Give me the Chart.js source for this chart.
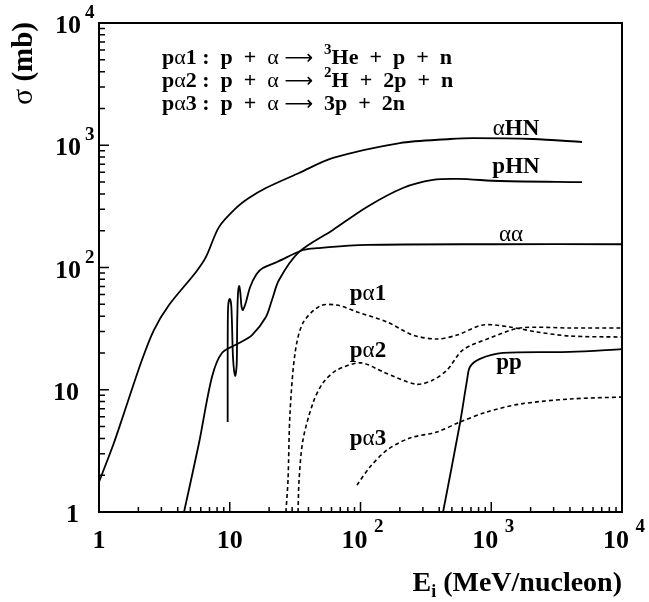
<!DOCTYPE html>
<html>
<head>
<meta charset="utf-8">
<script src="https://cdn.jsdelivr.net/npm/chart.js@4.4.0/dist/chart.umd.min.js"></script>
<style>
  html, body { margin: 0; padding: 0; background: #fff; }
  #wrap { width: 649px; height: 602px; }
</style>
</head>
<body>
<div id="wrap"><canvas id="chart" width="649" height="602"></canvas></div>
<script>
// Energies (MeV/nucleon) and cross sections (mb)
const eAlphaHN = [1, 1.3, 1.55, 2.13, 2.63, 3.43, 5.52, 6.58, 8.27, 11.2, 14, 18.9, 33.9, 61.6, 200, 484, 725, 2085, 4945];
const sAlphaHN = [1.76, 3.67, 6.4, 17.5, 30.8, 49.3, 91.9, 122, 214, 307, 370, 447, 593, 787, 1043, 1125, 1145, 1125, 1063];

const ePHN = [4.47, 5.82, 7.31, 8.72, 11.8, 14.8, 18.9, 21, 23.8, 33.9, 61.6, 112, 211, 358, 557, 1167, 4945];
const sPHN = [1, 3.67, 12.7, 20, 24.1, 28, 39.4, 54, 79, 134, 203, 313, 447, 520, 530, 510, 500];

const eAlphaAlpha = [9.64, 9.64, 9.66, 9.75, 10.0, 10.25, 10.4, 10.6, 11.0, 11.3, 11.4, 11.55, 11.8, 12.05, 12.3, 12.6, 13.3, 14.3, 16, 17.9, 23, 36.3, 46.5, 112, 1000, 10000];
const sAlphaAlpha = [5.45, 15, 35, 50, 55.3, 50, 35, 18, 13, 16, 35, 60, 70.6, 62, 48, 44.9, 52, 69, 88, 99, 111, 139, 144, 153, 155, 155];

const ePP = [428, 577, 653, 688, 820, 1230, 4000, 10000];
const sPP = [1, 5.35, 12, 15.4, 17.9, 20, 20.4, 21.5];

const ePA1 = [26.9, 27.9, 28.9, 31.6, 36.3, 49, 66.1, 94, 160, 252, 384, 547, 865, 1390, 2240, 4000, 10000];
const sPA1 = [1, 1.83, 6.45, 20, 35.2, 48.4, 49.3, 43.3, 35.8, 28, 26, 28, 33.9, 32.6, 29.7, 27.5, 27];

const ePA2 = [33.3, 33.9, 36.3, 43.3, 51.7, 66.1, 101, 149, 266, 358, 459, 608, 977, 1660, 4000, 10000];
const sPA2 = [1, 1.83, 3.88, 7.79, 11.4, 14.5, 16.6, 14, 11.1, 12, 14.5, 21.2, 26.5, 32, 32, 32];

const ePA3 = [94, 118, 160, 239, 384, 577, 927, 1660, 4000, 10000];
const sPA3 = [1.66, 2.33, 3.22, 4.03, 4.51, 5.45, 6.58, 7.64, 8.4, 8.72];

const xDecades = [1, 10, 100, 1000, 10000];
const yDecades = [1, 10, 100, 1000, 10000];
const decadeLabels = [['1', ''], ['10', ''], ['10', '2'], ['10', '3'], ['10', '4']];

const SERIF = '"Liberation Serif", "Times New Roman", serif';
const B = size => `bold ${size}px ${SERIF}`;
const N = size => `${size}px ${SERIF}`;
const ARROW = size => `${size}px "DejaVu Sans", sans-serif`;

function toPoints(xs, ys) {
  return xs.map((x, i) => ({ x, y: ys[i] }));
}

function curve(label, xs, ys, dashed) {
  return {
    label,
    data: toPoints(xs, ys),
    showLine: true,
    borderColor: '#000',
    borderWidth: dashed ? 1.6 : 1.8,
    borderDash: dashed ? [4, 3] : [],
    pointRadius: 0,
    tension: 0.3,
    fill: false
  };
}

// draw a row of text pieces with different fonts / offsets
function drawRuns(ctx, x, y, runs, align) {
  let w = 0;
  runs.forEach(r => { ctx.font = r.f; r.w = ctx.measureText(r.t).width; w += r.w; });
  let cx = align === 'right' ? x - w : align === 'center' ? x - w / 2 : x;
  runs.forEach(r => {
    ctx.font = r.f;
    ctx.fillText(r.t, cx, y + (r.dy || 0));
    cx += r.w;
  });
}

function reactionLine(ctx, x, y, n, products) {
  const f = 22;
  drawRuns(ctx, x, y, [
    { t: 'p', f: B(f) }, { t: 'α', f: N(f) }, { t: n + ' :  ', f: B(f) },
    { t: 'p  +  ', f: B(f) }, { t: 'α', f: N(f) }, { t: ' ', f: B(f) },
    { t: '⟶', f: ARROW(20) }, { t: '  ', f: B(f) }
  ].concat(products));
}

const decorations = {
  id: 'decorations',
  afterDraw(chart) {
    const { ctx, chartArea: a, scales } = chart;
    const xs = scales.x, ys = scales.y;
    ctx.save();
    ctx.fillStyle = '#000';
    ctx.strokeStyle = '#000';
    ctx.textBaseline = 'alphabetic';
    ctx.textAlign = 'left';

    // frame
    ctx.lineWidth = 2;
    ctx.strokeRect(a.left, a.top, a.right - a.left, a.bottom - a.top);

    // ticks (inward, left and bottom only)
    ctx.lineWidth = 1.5;
    ctx.beginPath();
    xDecades.forEach((d, i) => {
      for (let m = 1; m <= (i === xDecades.length - 1 ? 1 : 9); m++) {
        const px = xs.getPixelForValue(d * m);
        const len = m === 1 ? 10 : 5;
        ctx.moveTo(px, a.bottom);
        ctx.lineTo(px, a.bottom - len);
      }
    });
    yDecades.forEach((d, i) => {
      for (let m = 1; m <= (i === yDecades.length - 1 ? 1 : 9); m++) {
        const py = ys.getPixelForValue(d * m);
        const len = m === 1 ? 10 : 6;
        ctx.moveTo(a.left, py);
        ctx.lineTo(a.left + len, py);
      }
    });
    ctx.stroke();

    // tick labels
    yDecades.forEach((d, i) => {
      const py = ys.getPixelForValue(d);
      const [base, sup] = decadeLabels[i];
      drawRuns(ctx, sup ? 81 : 79, py + 10, [{ t: base, f: B(26) }], 'right');
      if (sup) drawRuns(ctx, 85, py - 5, [{ t: sup, f: B(19) }], 'left');
    });
    xDecades.forEach((d, i) => {
      const px = xs.getPixelForValue(d);
      const [base, sup] = decadeLabels[i];
      if (sup) {
        drawRuns(ctx, px + 2, 548, [{ t: base + ' ', f: B(26) }, { t: sup, f: B(19), dy: -16 }], 'center');
      } else {
        drawRuns(ctx, px, 548, [{ t: base, f: B(26) }], 'center');
      }
    });

    // axis titles
    drawRuns(ctx, 622, 591, [
      { t: 'E', f: B(28) }, { t: 'i', f: B(18), dy: 6 }, { t: ' (MeV/nucleon)', f: B(28) }
    ], 'right');
    ctx.save();
    ctx.translate(32, 22);
    ctx.rotate(-Math.PI / 2);
    drawRuns(ctx, 0, 0, [{ t: 'σ', f: N(30) }, { t: ' (mb)', f: B(29) }], 'right');
    ctx.restore();

    // reaction legend
    const lx = 162;
    reactionLine(ctx, lx, 64, '1', [
      { t: '3', f: B(15), dy: -10 }, { t: 'He  +  p  +  n', f: B(22) }
    ]);
    reactionLine(ctx, lx, 87, '2', [
      { t: '2', f: B(15), dy: -10 }, { t: 'H  +  2p  +  n', f: B(22) }
    ]);
    reactionLine(ctx, lx, 110, '3', [
      { t: '3p  +  2n', f: B(22) }
    ]);

    // curve labels
    const lf = 23;
    drawRuns(ctx, 516, 135, [{ t: 'α', f: N(lf) }, { t: 'HN', f: B(lf) }], 'center');
    drawRuns(ctx, 516, 173, [{ t: 'pHN', f: B(lf) }], 'center');
    drawRuns(ctx, 511, 241, [{ t: 'αα', f: N(lf) }], 'center');
    drawRuns(ctx, 368, 300, [{ t: 'p', f: B(lf) }, { t: 'α', f: N(lf) }, { t: '1', f: B(lf) }], 'center');
    drawRuns(ctx, 368, 357, [{ t: 'p', f: B(lf) }, { t: 'α', f: N(lf) }, { t: '2', f: B(lf) }], 'center');
    drawRuns(ctx, 509, 369, [{ t: 'pp', f: B(lf) }], 'center');
    drawRuns(ctx, 368, 445, [{ t: 'p', f: B(lf) }, { t: 'α', f: N(lf) }, { t: '3', f: B(lf) }], 'center');

    ctx.restore();
  }
};

new Chart(document.getElementById('chart'), {
  type: 'scatter',
  data: {
    datasets: [
      curve('αHN', eAlphaHN, sAlphaHN, false),
      curve('pHN', ePHN, sPHN, false),
      curve('αα', eAlphaAlpha, sAlphaAlpha, false),
      curve('pp', ePP, sPP, false),
      curve('pα1', ePA1, sPA1, true),
      curve('pα2', ePA2, sPA2, true),
      curve('pα3', ePA3, sPA3, true)
    ]
  },
  options: {
    responsive: false,
    animation: false,
    devicePixelRatio: 1,
    layout: { padding: { left: 99, right: 27, top: 23, bottom: 90 } },
    plugins: { legend: { display: false }, tooltip: { enabled: false } },
    scales: {
      x: { type: 'logarithmic', min: 1, max: 10000, display: false },
      y: { type: 'logarithmic', min: 1, max: 10000, display: false }
    }
  },
  plugins: [decorations]
});
</script>
</body>
</html>
